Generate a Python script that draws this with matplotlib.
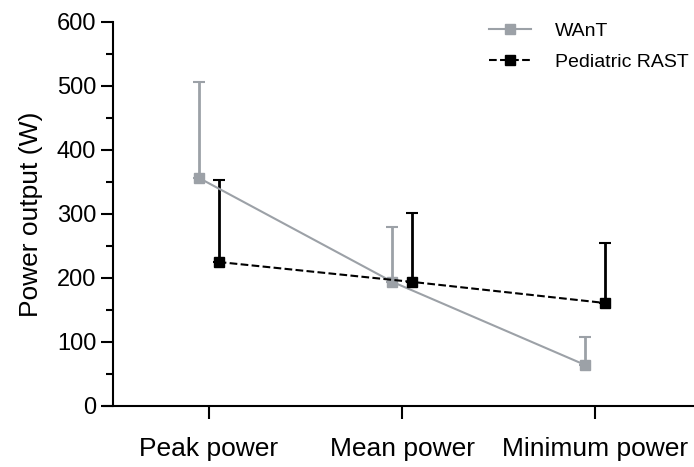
import matplotlib
matplotlib.use("Agg")
import matplotlib.pyplot as plt
import numpy as np
from matplotlib.ticker import MultipleLocator

plt.rcParams["font.family"] = ["Liberation Sans", "DejaVu Sans"]

categories = ["Peak power", "Mean power", "Minimum power"]
want_mean = [356, 194, 64]
want_sd = [150, 86, 44]
rast_mean = [225, 194, 161]
rast_sd = [128, 108, 94]

gray = "#9ca1a7"
x = np.arange(len(categories))
off = 0.05

fig = plt.figure(figsize=(6.94, 4.67), dpi=100)
ax = fig.add_axes([104 / 694, 61 / 467, 590 / 694, 384 / 467])

ax.errorbar(x - off, want_mean, yerr=[np.zeros(3), want_sd], color=gray, lw=1.5,
            marker="s", ms=7, capsize=4, capthick=1.5, elinewidth=2,
            label="WAnT", clip_on=False)
ax.errorbar(x + off, rast_mean, yerr=[np.zeros(3), rast_sd], color="black", lw=1.5,
            ls="--", marker="s", ms=7, capsize=4, capthick=1.5, elinewidth=2,
            label="Pediatric RAST", clip_on=False)

ax.set_xlim(-(209 - 104) / 193, 2 + (694 - 595) / 193)
ax.set_ylim(0, 600)
ax.spines["top"].set_visible(False)
ax.spines["right"].set_visible(False)
ax.spines["left"].set_position(("data", -(209 - 113) / 193))
for s in ["left", "bottom"]:
    ax.spines[s].set_linewidth(1.5)

ax.set_xticks(x)
ax.set_xticklabels(categories, fontsize=19)
ax.yaxis.set_major_locator(MultipleLocator(100))
ax.yaxis.set_minor_locator(MultipleLocator(50))
ax.tick_params(axis="y", which="major", length=9, width=1.5, labelsize=17, pad=3)
ax.tick_params(axis="y", which="minor", length=5, width=1.5)
ax.tick_params(axis="x", which="major", length=9, width=1.5, pad=13)
ax.set_ylabel("Power output (W)", fontsize=19, labelpad=10)

handles, labels = ax.get_legend_handles_labels()
handles = [h[0] for h in handles]
ax.legend(handles, labels, loc="upper right", bbox_to_anchor=(1.02, 1.045), frameon=False,
          fontsize=14, handlelength=2.15, labelspacing=0.7, handletextpad=1.2)

fig.savefig("out.png", dpi=100)
